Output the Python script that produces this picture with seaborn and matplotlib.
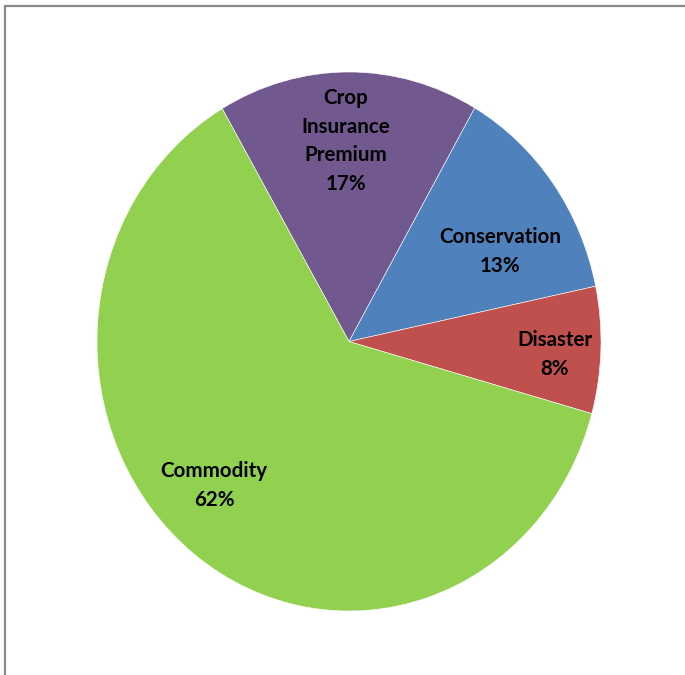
import matplotlib
matplotlib.use("Agg")
import matplotlib.pyplot as plt
import seaborn as sns
from matplotlib.patches import Rectangle

sns.set_theme(style="white")
plt.rcParams['font.family'] = ['Lato', 'DejaVu Sans']

# Data (clockwise from upper-left boundary)
categories = ["Crop\nInsurance\nPremium", "Conservation", "Disaster", "Commodity"]
values = [16.7, 13.4, 7.6, 62.3]
colors = ["#71588F", "#4F81BD", "#C0504D", "#92D050"]
# label centre positions in pie-radius units (x, y)
label_pos = [(-0.012, 0.744), (0.60, 0.335), (0.817, -0.048), (-0.536, -0.536)]

W, H = 685, 675
fig = plt.figure(figsize=(W / 100, H / 100), dpi=100)
fig.patch.set_facecolor("white")

# frame (cropped at right and bottom)
fig.add_artist(Rectangle((5 / W, -0.1), 1.2, (H - 6) / H + 0.1, transform=fig.transFigure,
                         fill=False, edgecolor="#8a8a8a", linewidth=1.6))

cx, cy, rx, ry = 349, 341.5, 252, 269.5
ax = fig.add_axes([(cx - rx) / W, (H - cy - ry) / H, 2 * rx / W, 2 * ry / H])
ax.pie(values, colors=colors, startangle=120.2, counterclock=False,
       wedgeprops=dict(linewidth=0.4, edgecolor="white"))
ax.set_aspect("auto")
ax.set_xlim(-1, 1)
ax.set_ylim(-1, 1)
ax.axis("off")

total = sum(values)
for cat, v, (x, y) in zip(categories, values, label_pos):
    ax.text(x, y, f"{cat}\n{round(v / total * 100):.0f}%", ha="center", va="center",
            fontsize=14.8, fontweight="bold", color="black", linespacing=1.56)

fig.savefig("out.png", dpi=100, facecolor="white")
